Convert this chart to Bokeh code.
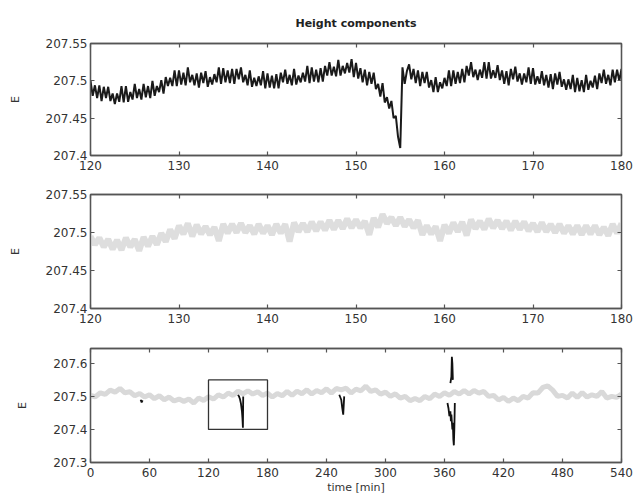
import numpy as np
from bokeh.plotting import figure
from bokeh.layouts import column
from bokeh.models import LinearAxis, FixedTicker, Range1d
from bokeh.embed import file_html
from bokeh.resources import INLINE

# ---------------- texts ----------------
title_text = "Height components"
y_label = "E"
x_label = "time [min]"

# ---------------- ticks ----------------
zoom_t_ticks = [120, 130, 140, 150, 160, 170, 180]
zoom_e_ticks = [207.40, 207.45, 207.50, 207.55]
zoom_e_tick_labels = ["207.4", "207.45", "207.5", "207.55"]
full_t_ticks = [0, 60, 120, 180, 240, 300, 360, 420, 480, 540]
full_e_ticks = [207.3, 207.4, 207.5, 207.6]
full_e_tick_labels = ["207.3", "207.4", "207.5", "207.6"]

# ---------------- data: panel 1 (raw height, 120-180 min, 0.25 min samples) ----------------
raw_t = np.arange(120.0, 180.0001, 0.25)
raw_e = [
    207.500, 207.480, 207.494, 207.477,
    207.494, 207.473, 207.492, 207.477,
    207.492, 207.473, 207.483, 207.469,
    207.483, 207.472, 207.493, 207.471,
    207.493, 207.472, 207.485, 207.475,
    207.496, 207.477, 207.489, 207.475,
    207.496, 207.478, 207.493, 207.477,
    207.500, 207.480, 207.493, 207.485,
    207.501, 207.483, 207.505, 207.493,
    207.504, 207.493, 207.514, 207.493,
    207.514, 207.495, 207.511, 207.494,
    207.518, 207.498, 207.508, 207.494,
    207.510, 207.491, 207.511, 207.497,
    207.513, 207.492, 207.505, 207.495,
    207.509, 207.498, 207.518, 207.496,
    207.517, 207.498, 207.514, 207.497,
    207.516, 207.496, 207.516, 207.502,
    207.518, 207.498, 207.508, 207.494,
    207.514, 207.492, 207.504, 207.493,
    207.506, 207.494, 207.513, 207.490,
    207.510, 207.491, 207.507, 207.490,
    207.509, 207.490, 207.511, 207.498,
    207.515, 207.496, 207.508, 207.494,
    207.516, 207.495, 207.507, 207.498,
    207.511, 207.499, 207.520, 207.497,
    207.518, 207.499, 207.515, 207.498,
    207.517, 207.499, 207.520, 207.507,
    207.525, 207.507, 207.519, 207.506,
    207.528, 207.507, 207.520, 207.510,
    207.524, 207.511, 207.529, 207.505,
    207.524, 207.503, 207.517, 207.498,
    207.515, 207.494, 207.512, 207.496,
    207.511, 207.489, 207.496, 207.479,
    207.497, 207.471, 207.478, 207.463,
    207.473, 207.450, 207.453, 207.425,
    207.410, 207.518, 207.496, 207.513,
    207.522, 207.502, 207.516, 207.497,
    207.514, 207.493, 207.512, 207.497,
    207.512, 207.491, 207.501, 207.485,
    207.505, 207.485, 207.498, 207.490,
    207.504, 207.493, 207.514, 207.493,
    207.514, 207.496, 207.512, 207.497,
    207.516, 207.498, 207.520, 207.507,
    207.525, 207.505, 207.515, 207.501,
    207.515, 207.504, 207.525, 207.503,
    207.525, 207.503, 207.514, 207.504,
    207.521, 207.501, 207.514, 207.496,
    207.513, 207.494, 207.516, 207.502,
    207.519, 207.499, 207.510, 207.495,
    207.510, 207.498, 207.518, 207.496,
    207.517, 207.495, 207.506, 207.496,
    207.513, 207.494, 207.508, 207.491,
    207.509, 207.489, 207.510, 207.495,
    207.512, 207.492, 207.502, 207.488,
    207.502, 207.489, 207.508, 207.485,
    207.504, 207.486, 207.501, 207.485,
    207.508, 207.488, 207.500, 207.491,
    207.507, 207.489, 207.510, 207.497,
    207.515, 207.496, 207.508, 207.494,
    207.515, 207.498, 207.515, 207.500,
    207.516,
]

# ---------------- data: panel 2 (smoothed height, 120-180 min, 0.5 min samples) ----------------
smooth_t = np.arange(120.0, 180.0001, 0.5)
smooth_e = [
    207.495, 207.484, 207.493, 207.481, 207.491, 207.478, 207.490, 207.477,
    207.493, 207.481, 207.491, 207.476, 207.494, 207.482, 207.495, 207.484,
    207.499, 207.488, 207.504, 207.492, 207.509, 207.498, 207.512, 207.495,
    207.510, 207.498, 207.508, 207.497, 207.507, 207.489, 207.511, 207.499,
    207.511, 207.500, 207.512, 207.500, 207.509, 207.498, 207.511, 207.499,
    207.509, 207.497, 207.511, 207.499, 207.511, 207.488, 207.513, 207.501,
    207.512, 207.501, 207.514, 207.502, 207.514, 207.503, 207.516, 207.504,
    207.516, 207.505, 207.518, 207.506, 207.517, 207.506, 207.515, 207.497,
    207.519, 207.507, 207.524, 207.512, 207.520, 207.509, 207.520, 207.508,
    207.517, 207.506, 207.516, 207.497, 207.509, 207.498, 207.508, 207.489,
    207.510, 207.499, 207.513, 207.501, 207.514, 207.496, 207.517, 207.505,
    207.515, 207.504, 207.518, 207.506, 207.516, 207.505, 207.515, 207.503,
    207.515, 207.504, 207.514, 207.502, 207.512, 207.501, 207.513, 207.501,
    207.511, 207.500, 207.511, 207.499, 207.509, 207.498, 207.509, 207.497,
    207.509, 207.498, 207.509, 207.497, 207.507, 207.496, 207.511, 207.499,
    207.512,
]

# ---------------- data: panel 3 (whole session, 0-540 min) ----------------
full_t = np.arange(0.0, 540.0001, 5.0)
full_e = [
    207.503, 207.499, 207.511, 207.506, 207.519, 207.513, 207.524, 207.511,
    207.514, 207.502, 207.509, 207.498, 207.505, 207.493, 207.502, 207.490,
    207.498, 207.486, 207.492, 207.485, 207.492, 207.480, 207.495, 207.488,
    207.499, 207.492, 207.505, 207.498, 207.510, 207.503, 207.516, 207.508,
    207.517, 207.507, 207.514, 207.503, 207.510, 207.498, 207.509, 207.502,
    207.515, 207.503, 207.516, 207.508, 207.520, 207.507, 207.518, 207.511,
    207.523, 207.510, 207.524, 207.520, 207.525, 207.510, 207.522, 207.517,
    207.531, 207.515, 207.520, 207.507, 207.513, 207.500, 207.508, 207.495,
    207.500, 207.487, 207.494, 207.487, 207.500, 207.493, 207.507, 207.500,
    207.511, 207.503, 207.515, 207.507, 207.518, 207.507, 207.518, 207.510,
    207.515, 207.500, 207.503, 207.489, 207.497, 207.485, 207.495, 207.487,
    207.500, 207.495, 207.511, 207.510, 207.527, 207.532, 207.519, 207.500,
    207.503, 207.495, 207.510, 207.497, 207.512, 207.498, 207.505, 207.500,
    207.515, 207.495, 207.500, 207.497, 207.507,
]

# raw outliers visible in the full-session panel (NaN separates the bursts)
nan = float("nan")
spike_t = [51, 52, 53, nan,
           150, 151, 152, 153, 154, 154.5, 155, 155.3, nan,
           253, 255, 256, 257, 258, nan,
           366, 367, 367.5, 368, 368.5, nan,
           363, 364, 365, 366, 366.5, 367, 368, 368.5, 369, 369.5, 370, 370.5]
spike_e = [207.490, 207.482, 207.488, nan,
           207.505, 207.500, 207.492, 207.478, 207.455, 207.435, 207.405, 207.500, nan,
           207.505, 207.490, 207.465, 207.445, 207.500, nan,
           207.540, 207.560, 207.620, 207.600, 207.550, nan,
           207.480, 207.465, 207.440, 207.455, 207.425, 207.445, 207.400, 207.420,
           207.370, 207.352, 207.400, 207.480]

# zoom window shown in panels 1-2
window_t = [120, 180]
window_e = [207.40, 207.55]

# ---------------- styling helpers ----------------
FONT = "DejaVu Sans"
TXT = "#333333"
AXC = "#555555"


def style_axis(ax, ticks, labels=None, show_labels=True, standoff=4):
    ax.ticker = FixedTicker(ticks=ticks)
    ax.major_tick_in = 4
    ax.major_tick_out = 0
    ax.minor_tick_line_color = None
    ax.axis_line_color = AXC
    ax.axis_line_width = 1.3
    ax.major_tick_line_color = AXC
    ax.major_tick_line_width = 1.2
    ax.major_label_text_font = FONT
    ax.major_label_text_color = TXT
    if labels is not None:
        ax.major_label_overrides = {t: l for t, l in zip(ticks, labels)}
    if show_labels:
        ax.major_label_text_font_size = "12px"
        ax.major_label_standoff = standoff
    else:
        ax.major_label_text_font_size = "0px"
        ax.major_label_text_alpha = 0
        ax.major_label_standoff = 0


def make_fig(height, xr, yr, top, bottom, xt, yt, ylabels, xlabel=None, title=None):
    p = figure(width=637, height=height, x_range=Range1d(*xr), y_range=Range1d(*yr),
               output_backend="svg", toolbar_location=None,
               min_border_left=90, min_border_right=16,
               min_border_top=top, min_border_bottom=bottom)
    p.xgrid.visible = False
    p.ygrid.visible = False
    p.outline_line_color = AXC
    p.outline_line_width = 1.3
    p.background_fill_color = "white"
    p.border_fill_color = "white"
    style_axis(p.xaxis[0], xt, standoff=5)
    style_axis(p.yaxis[0], yt, ylabels, standoff=3)
    p.yaxis[0].axis_label = y_label
    p.yaxis[0].axis_label_text_font = FONT
    p.yaxis[0].axis_label_text_font_style = "normal"
    p.yaxis[0].axis_label_text_font_size = "11px"
    p.yaxis[0].axis_label_text_color = TXT
    p.yaxis[0].axis_label_standoff = 21
    if xlabel:
        p.xaxis[0].axis_label = xlabel
        p.xaxis[0].axis_label_text_font = FONT
        p.xaxis[0].axis_label_text_font_style = "normal"
        p.xaxis[0].axis_label_text_font_size = "11px"
        p.xaxis[0].axis_label_text_color = TXT
        p.xaxis[0].axis_label_standoff = 1
    ra = LinearAxis()
    style_axis(ra, yt, show_labels=False)
    p.add_layout(ra, "right")
    ta = LinearAxis()
    style_axis(ta, xt, show_labels=False)
    p.add_layout(ta, "above")
    if title:
        p.title.text = title
        p.title.align = "center"
        p.title.text_font = FONT
        p.title.text_font_size = "11px"
        p.title.text_font_style = "bold"
        p.title.text_color = "#222222"
        p.title.standoff = 28
    return p


p1 = make_fig(174, (120, 180), (207.40, 207.55), 42, 19,
              zoom_t_ticks, zoom_e_ticks, zoom_e_tick_labels, title=title_text)
p1.line(raw_t, raw_e, line_color="#1a1a1a", line_width=2.0)

p2 = make_fig(154, (120, 180), (207.40, 207.55), 20, 20,
              zoom_t_ticks, zoom_e_ticks, zoom_e_tick_labels)
p2.line(smooth_t, smooth_e, line_color="#dedede", line_width=6)

p3 = make_fig(174, (0, 540), (207.3, 207.645), 20, 40,
              full_t_ticks, full_e_ticks, full_e_tick_labels, xlabel=x_label)
p3.line(spike_t, spike_e, line_color="#111111", line_width=1.8)
p3.line(full_t, full_e, line_color="#d9d9d9", line_width=5)
p3.quad(left=[window_t[0]], right=[window_t[1]], bottom=[window_e[0]], top=[window_e[1]],
        fill_color=None, line_color="#333333", line_width=1.3)

layout = column(p1, p2, p3, spacing=0)
open("out.html", "w").write(file_html(layout, INLINE))
